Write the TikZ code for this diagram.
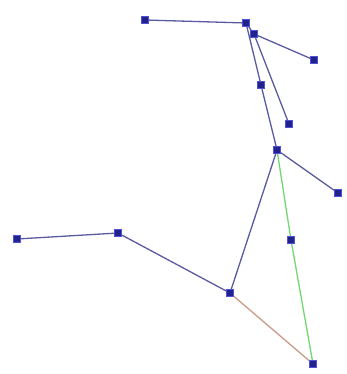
\documentclass[tikz,border=0pt]{standalone}
\definecolor{lncol}{HTML}{5A5AA0}
\definecolor{ptfill}{HTML}{22228C}
\definecolor{ptdraw}{HTML}{5050D8}
\definecolor{gcol}{HTML}{70D870}
\definecolor{ocol}{HTML}{C89C88}
\begin{document}
\begin{tikzpicture}[x=1pt,y=-1pt,
  pt/.style={draw=ptdraw,fill=ptfill,minimum size=7pt,inner sep=0pt,line width=1pt},
  ln/.style={draw=lncol,line width=1.3pt},
  gl/.style={draw=gcol,line width=1.3pt},
  ol/.style={draw=ocol,line width=1.3pt}]
\useasboundingbox (0,0) rectangle (347,374);
\node[pt] (A) at (145,20) {};
\node[pt] (B) at (246,23) {};
\node[pt] (C) at (254,34) {};
\node[pt] (D) at (314,60) {};
\node[pt] (E) at (261,85) {};
\node[pt] (F) at (289,124) {};
\node[pt] (G) at (277,150) {};
\node[pt] (H) at (338,193) {};
\node[pt] (I) at (291,240) {};
\node[pt] (J) at (313,364) {};
\node[pt] (K) at (230,293) {};
\node[pt] (L) at (118,233) {};
\node[pt] (M) at (17,239) {};
\draw[ln] (A) -- (B);
\draw[ln] (B) -- (C);
\draw[ln] (C) -- (D);
\draw[ln] (B) -- (E);
\draw[ln] (C) -- (F);
\draw[ln] (E) -- (G);
\draw[ln] (G) -- (H);
\draw[ln] (G) -- (K);
\draw[ln] (K) -- (L);
\draw[ln] (L) -- (M);
\draw[gl] (G) -- (I);
\draw[gl] (I) -- (J);
\draw[ol] (K) -- (J);
\end{tikzpicture}
\end{document}
